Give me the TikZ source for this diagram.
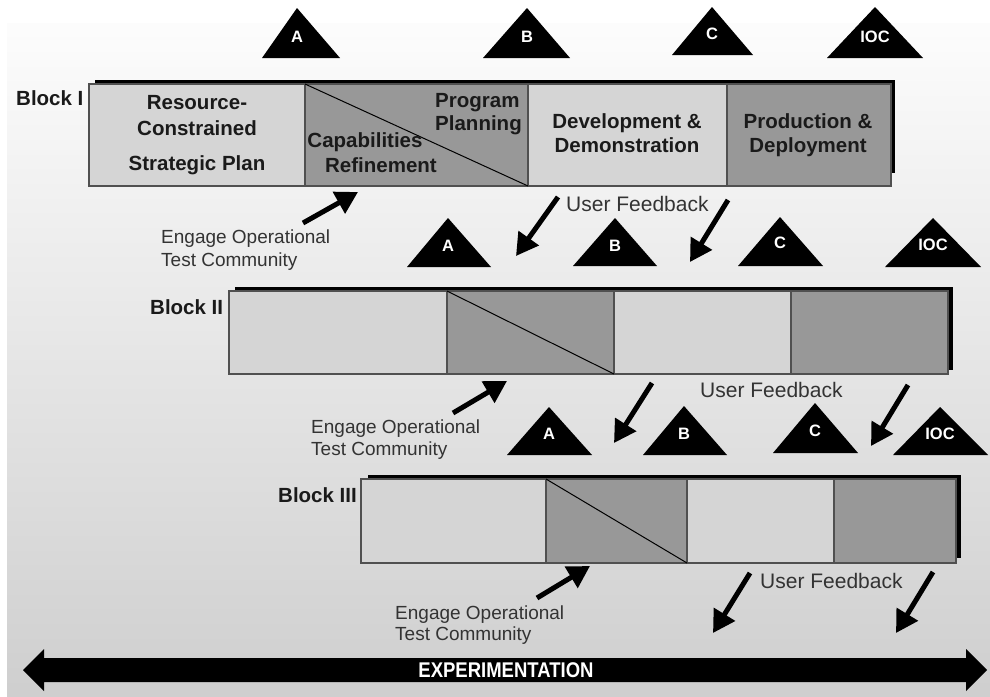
\documentclass[tikz,border=0pt]{standalone}
\usepackage{fontspec}
\setmainfont{Liberation Sans}
\usetikzlibrary{arrows.meta}
\definecolor{boxlight}{HTML}{D5D5D5}
\definecolor{boxdark}{HTML}{989898}
\definecolor{edgegray}{HTML}{505050}
\definecolor{txt}{HTML}{1A1A1A}
\definecolor{notetxt}{HTML}{333333}
\tikzset{
  blk/.style={font=\fontsize{20.5}{23}\selectfont\bfseries, text=txt, inner sep=0pt, anchor=base},
  blkw/.style={blk, anchor=base west},
  note/.style={font=\fontsize{19}{22}\selectfont, text=notetxt, inner sep=0pt, anchor=base west},
  fbtext/.style={font=\fontsize{21}{24}\selectfont, text=notetxt, inner sep=0pt, anchor=base west},
  ms/.style={font=\fontsize{16.5}{18}\selectfont\bfseries, text=white, inner sep=0pt},
  ptr/.style={line width=5pt, -{Triangle[length=22pt,width=24pt]}, black},
  secline/.style={draw=edgegray, line width=1.1pt},
  shadowbar/.style={fill=black},
  xptext/.style={font=\fontsize{18.5}{20}\selectfont\bfseries, text=white, inner sep=0pt, yscale=1.15},
}
% name, left x, right x, apex x, apex y, base y, label, label y
\newcommand{\mstone}[8]{%
  \fill[black] (#2,#6) -- (#4,#5) -- (#3,#6) -- cycle;
  \node[ms] (#1) at (#4,#8) {#7};}
% five x positions, top y, bottom y
\newcommand{\phasebar}[7]{%
  \fill[boxlight] (#1,#6) rectangle (#2,#7);
  \fill[boxdark] (#2,#6) rectangle (#3,#7);
  \fill[boxlight] (#3,#6) rectangle (#4,#7);
  \fill[boxdark] (#4,#6) rectangle (#5,#7);
  \draw[secline] (#1,#6) rectangle (#5,#7);
  \draw[secline] (#2,#6) -- (#2,#7) (#3,#6) -- (#3,#7) (#4,#6) -- (#4,#7);
  \draw[black, line width=1pt] (#2,#6) -- (#3,#7);}
\begin{document}
\begin{tikzpicture}[x=1pt,y=-1pt]
\useasboundingbox (0,0) rectangle (990,696);
\fill[white] (0,0) rectangle (990,696);
\shade[top color=black!1, bottom color=black!19] (7,23) rectangle (990,696);

% ---------- top milestones ----------
\mstone{m1a}{262}{340}{297}{8}{58}{A}{37}
\mstone{m1b}{483}{570}{527}{8}{58}{B}{37}
\mstone{m1c}{672}{753}{712}{7}{55}{C}{34}
\mstone{m1i}{827}{923}{875}{7}{58}{IOC}{37}

% ---------- Block I ----------
\node[blkw] (b1) at (16,105) {Block I};
\fill[shadowbar] (95,80) rectangle (895,173);
\phasebar{89}{305}{528}{727}{891}{84}{186}
\node[blk] (b1r1) at (197,109) {Resource-};
\node[blk] (b1r2) at (197,135) {Constrained};
\node[blk] (b1r3) at (197,170) {Strategic Plan};
\node[blkw] (b1p1) at (435,107) {Program};
\node[blkw] (b1p2) at (435,130) {Planning};
\node[blk] (b1c1) at (365,147) {Capabilities};
\node[blk] (b1c2) at (381,172) {Refinement};
\node[blk] (b1d1) at (627,128) {Development \&};
\node[blk] (b1d2) at (627,152) {Demonstration};
\node[blk] (b1e1) at (808,128) {Production \&};
\node[blk] (b1e2) at (808,152) {Deployment};

% notes row 1
\coordinate (e1s) at (303,223); \coordinate (e1t) at (358,192);
\draw[ptr] (e1s) -- (e1t);
\node[note] (e1a) at (161,243) {Engage Operational};
\node[note] (e1b) at (161,266) {Test Community};
\coordinate (f1as) at (558,197); \coordinate (f1at) at (516,256);
\coordinate (f1bs) at (728,200); \coordinate (f1bt) at (690,262);
\draw[ptr] (f1as) -- (f1at);
\draw[ptr] (f1bs) -- (f1bt);
\node[fbtext] (f1) at (566,211) {User Feedback};

% ---------- row 2 milestones ----------
\mstone{m2a}{407}{491}{448}{218}{267}{A}{246}
\mstone{m2b}{573}{657}{615}{218}{266}{B}{246}
\mstone{m2c}{738}{823}{780}{217}{266}{C}{243}
\mstone{m2i}{885}{981}{933}{218}{267}{IOC}{245}

% ---------- Block II ----------
\node[blkw] (b2) at (150,314) {Block II};
\fill[shadowbar] (235,287) rectangle (953,370);
\phasebar{229}{447}{614}{791}{948}{291}{374}

\coordinate (e2s) at (453,413); \coordinate (e2t) at (507,381);
\draw[ptr] (e2s) -- (e2t);
\node[note] (e2a) at (311,433) {Engage Operational};
\node[note] (e2b) at (311,455) {Test Community};
\coordinate (f2as) at (652,383); \coordinate (f2at) at (614,443);
\coordinate (f2bs) at (908,385); \coordinate (f2bt) at (871,446);
\draw[ptr] (f2as) -- (f2at);
\draw[ptr] (f2bs) -- (f2bt);
\node[fbtext] (f2) at (700,397) {User Feedback};

% ---------- row 3 milestones ----------
\mstone{m3a}{507}{592}{549}{407}{455}{A}{434}
\mstone{m3b}{643}{727}{684}{406}{455}{B}{434}
\mstone{m3c}{773}{858}{815}{403}{453}{C}{431}
\mstone{m3i}{893}{988}{940}{407}{455}{IOC}{434}

% ---------- Block III ----------
\node[blkw] (b3) at (278,502) {Block III};
\fill[shadowbar] (368,475) rectangle (961,558);
\phasebar{361}{546}{687}{834}{956}{479}{563}

\coordinate (e3s) at (537,598); \coordinate (e3t) at (590,566);
\draw[ptr] (e3s) -- (e3t);
\node[note] (e3a) at (395,619) {Engage Operational};
\node[note] (e3b) at (395,640) {Test Community};
\coordinate (f3as) at (750,573); \coordinate (f3at) at (713,633);
\coordinate (f3bs) at (933,572); \coordinate (f3bt) at (896,633);
\draw[ptr] (f3as) -- (f3at);
\draw[ptr] (f3bs) -- (f3bt);
\node[fbtext] (f3) at (760,588) {User Feedback};

% ---------- experimentation bar ----------
\fill[black] (23,670) -- (44,649) -- (44,658) -- (966,658) -- (966,649) -- (987,670)
  -- (966,691) -- (966,682) -- (44,682) -- (44,691) -- cycle;
\node[xptext] (xp) at (506,670) {EXPERIMENTATION};
\end{tikzpicture}
\end{document}
